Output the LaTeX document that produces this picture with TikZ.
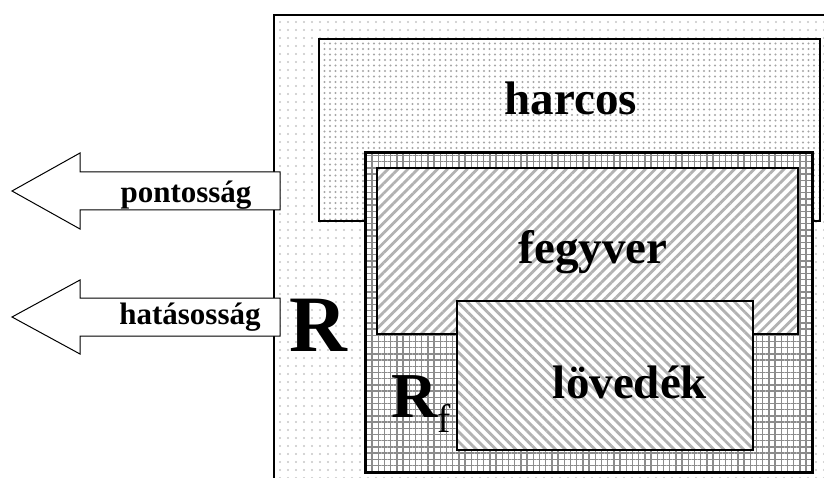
\documentclass[tikz,border=0pt]{standalone}
\usepackage{fontspec}
\setmainfont{Liberation Serif}
\usetikzlibrary{patterns.meta}
\tikzset{
  frame/.style={draw=black, line width=1.2pt, preaction={fill=white}},
  outerfill/.style={frame, pattern={Dots[distance=8pt, radius=1.1pt]}, pattern color=gray!45},
  harcosfill/.style={frame, pattern={Dots[distance=5.5pt, radius=1.15pt]}, pattern color=gray!70},
  gridfill/.style={frame, line width=3pt, pattern={Hatch[distance=6.2pt, line width=1.4pt]}, pattern color=gray!90},
  nelines/.style={frame, pattern={Lines[angle=45, distance=7pt, line width=2.8pt]}, pattern color=gray!60},
  nwlines/.style={frame, pattern={Lines[angle=-45, distance=7pt, line width=2.8pt]}, pattern color=gray!60},
  arrowbox/.style={draw=black, line width=1pt, fill=white},
  label/.style={font=\bfseries\fontsize{47}{47}\selectfont, inner sep=0pt, anchor=base},
  arrowlabel/.style={font=\bfseries\fontsize{31}{31}\selectfont, inner sep=0pt, anchor=base}
}
\begin{document}
\begin{tikzpicture}[x=1pt, y=-1pt]
	\useasboundingbox (0,0) rectangle (824,478);
	\clip (0,0) rectangle (824,478);
	% nested boxes
	\draw [outerfill] (274,15) rectangle (840,495);
	\draw [harcosfill] (319,39) rectangle (820,221);
	\draw [gridfill] (365,153) rectangle (812,472);
	\draw [nelines] (377,168) rectangle (798,334);
	\draw [nwlines] (457,301) rectangle (753,450);
	% arrows
	\draw [arrowbox] (12,191) -- (80,153) -- (80,172) -- (280,172) -- (280,210) -- (80,210) -- (80,229) -- cycle;
	\draw [arrowbox] (12,317) -- (80,280) -- (80,298) -- (280,298) -- (280,336) -- (80,336) -- (80,354) -- cycle;
	% texts
	\node [label] (harcos) at (571,115) {harcos};
	\node [label] (fegyver) at (593,263) {fegyver};
	\node [label] (lovedek) at (630,398) {lövedék};
	\node [arrowlabel] (pontossag) at (186,203) {pontosság};
	\node [arrowlabel] (hatasossag) at (190,324) {hatásosság};
	\node [label, font=\bfseries\fontsize{80}{80}\selectfont] (R) at (318,351) {R};
	\node [label, anchor=base west, font=\bfseries\fontsize{64}{64}\selectfont] (Rf) at (391,417) {R\raisebox{-15pt}{\mdseries\fontsize{40}{40}\selectfont f}};
\end{tikzpicture}
\end{document}
